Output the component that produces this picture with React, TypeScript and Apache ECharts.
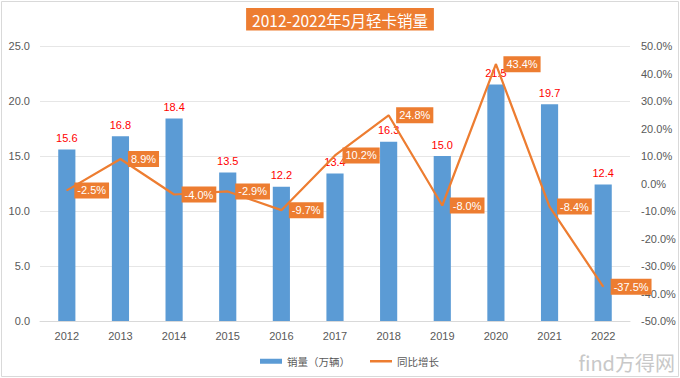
import React, { useEffect, useRef } from "react";
import * as echarts from "echarts";

const years = ["2012", "2013", "2014", "2015", "2016", "2017", "2018", "2019", "2020", "2021", "2022"];
const sales = [15.6, 16.8, 18.4, 13.5, 12.2, 13.4, 16.3, 15.0, 21.5, 19.7, 12.4];
const growth = [-2.5, 8.9, -4.0, -2.9, -9.7, 10.2, 24.8, -8.0, 43.4, -8.4, -37.5];

export default function App() {
  const ref = useRef<HTMLDivElement>(null);
  useEffect(() => {
    if (!ref.current) return;
    const chart = echarts.init(ref.current, null, { renderer: "svg" });
    const axisText = { color: "#595959", fontSize: 11, fontFamily: "Liberation Sans, Arial, sans-serif" };
    chart.setOption({
      animation: false,
      backgroundColor: "#ffffff",
      title: {
        text: "2012-2022年5月轻卡销量",
        left: "center",
        top: 8,
        backgroundColor: "#ED7D31",
        padding: [4, 6, 3, 6],
        textStyle: { color: "#ffffff", fontSize: 15.5, fontWeight: "normal", fontFamily: "Noto Sans CJK SC, sans-serif" },
      },
      legend: {
        left: 255,
        top: 351,
        itemGap: 20,
        itemWidth: 22,
        itemHeight: 5,
        textStyle: { color: "#595959", fontSize: 10.5, fontFamily: "Noto Sans CJK SC, sans-serif" },
        data: [
          { name: "销量（万辆）", icon: "rect" },
          { name: "同比增长", icon: "path://M0,0L22,0L22,2.5L0,2.5Z" },
        ],
      },
      grid: { left: 40, right: 50, top: 46, bottom: 57 },
      xAxis: {
        type: "category",
        data: years,
        axisLine: { lineStyle: { color: "#D9D9D9" } },
        axisTick: { show: false },
        axisLabel: { ...axisText, margin: 9 },
      },
      yAxis: [
        {
          type: "value",
          min: 0,
          max: 25,
          interval: 5,
          axisLine: { show: false },
          axisTick: { show: false },
          splitLine: { lineStyle: { color: "#E6E6E6" } },
          axisLabel: { ...axisText, margin: 10, formatter: (v: number) => v.toFixed(1) },
        },
        {
          type: "value",
          min: -50,
          max: 50,
          interval: 10,
          axisLine: { show: false },
          axisTick: { show: false },
          splitLine: { show: false },
          axisLabel: { ...axisText, margin: 11, formatter: (v: number) => v.toFixed(1) + "%" },
        },
      ],
      series: [
        {
          name: "销量（万辆）",
          type: "bar",
          data: sales,
          barWidth: "32%",
          itemStyle: { color: "#5B9BD5" },
          label: {
            show: true,
            position: "top",
            distance: 6,
            color: "#FF0000",
            fontSize: 11,
            fontFamily: "Liberation Sans, Arial, sans-serif",
            formatter: (p: any) => p.value.toFixed(1),
          },
          z: 2,
        },
        {
          name: "同比增长",
          type: "line",
          yAxisIndex: 1,
          data: growth,
          symbol: "circle",
          symbolSize: 1,
          showSymbol: true,
          lineStyle: { color: "#ED7D31", width: 2.25 },
          itemStyle: { color: "#ED7D31" },
          label: {
            show: true,
            position: "right",
            distance: 7,
            color: "#ffffff",
            backgroundColor: "#ED7D31",
            padding: [3, 3, 2, 3],
            fontSize: 11,
            fontFamily: "Liberation Sans, Arial, sans-serif",
            formatter: (p: any) => p.value.toFixed(1) + "%",
          },
          z: 3,
        },
      ],
      graphic: [
        {
          type: "rect",
          shape: { x: 1.5, y: 1.5, width: 677, height: 375 },
          style: { fill: "none", stroke: "#D9D9D9", lineWidth: 1 },
          silent: true,
        },
        {
          type: "text",
          right: 5,
          bottom: 6,
          style: {
            text: "find方得网",
            fill: "#C8C8C8",
            fontSize: 20,
            fontFamily: "Noto Sans CJK SC, sans-serif",
          },
          silent: true,
        },
      ],
    });
    return () => chart.dispose();
  }, []);
  return (
    <div
      ref={ref}
      style={{ position: "fixed", left: 0, top: 0, width: 680, height: 378 }}
    />
  );
}
